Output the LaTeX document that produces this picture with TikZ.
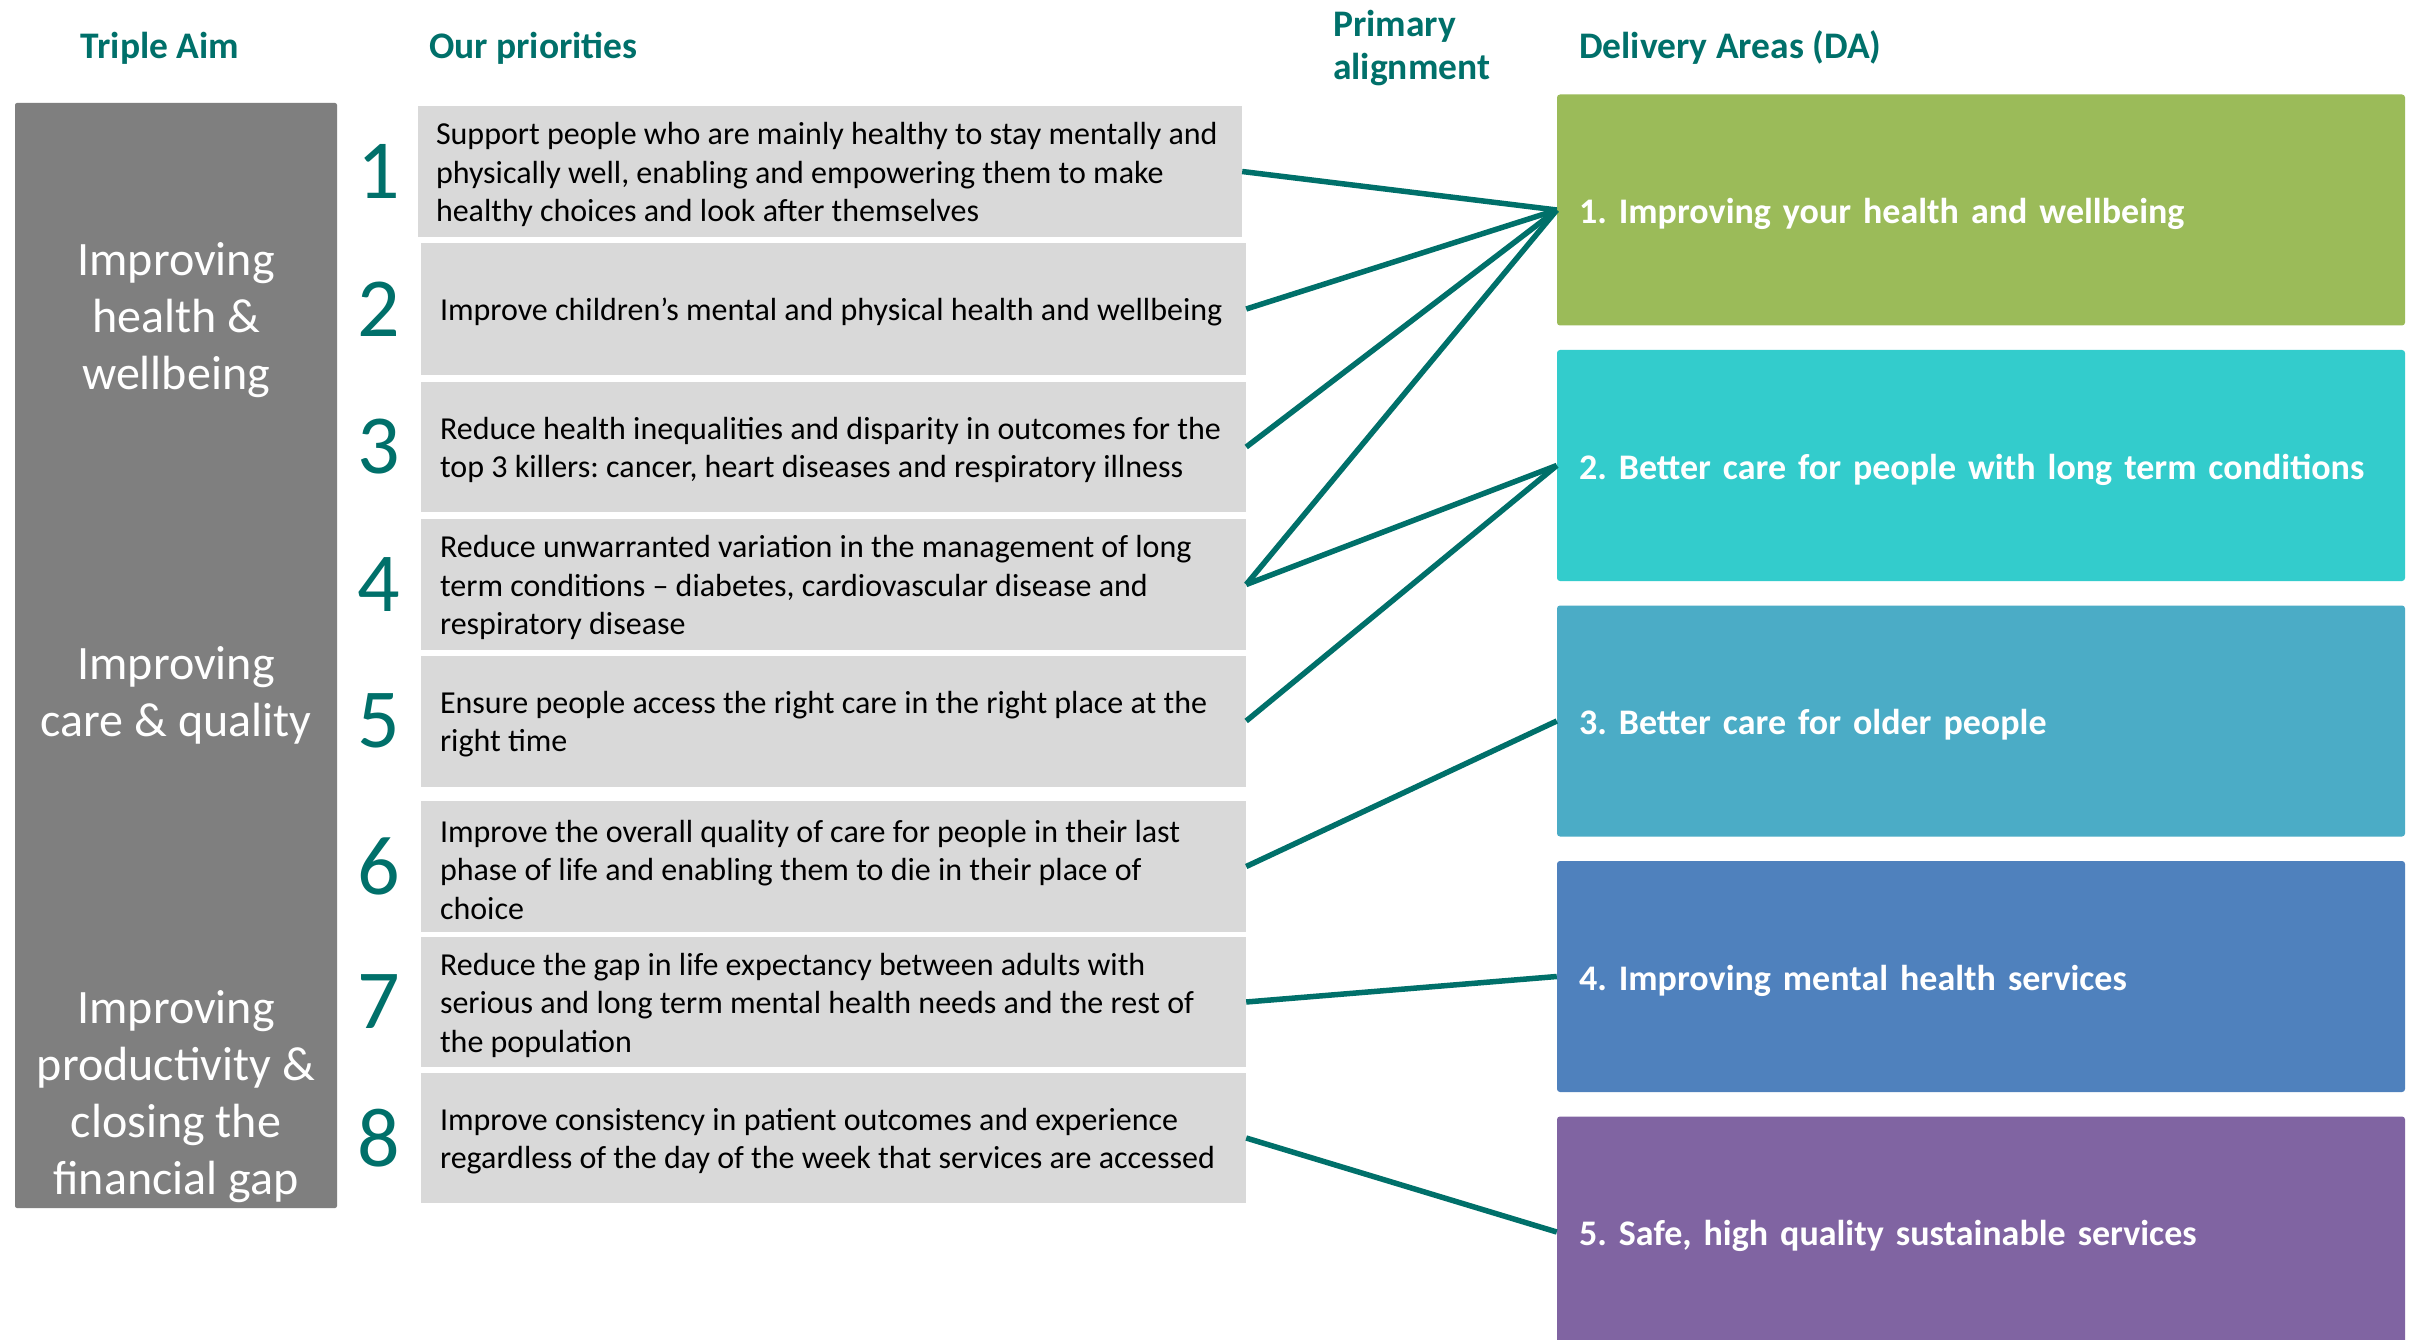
\documentclass[tikz,border=0pt]{standalone}
\usepackage{fontspec}
\setmainfont{Carlito}
\frenchspacing
\definecolor{brandteal}{RGB}{0,112,106}
\definecolor{aimgrey}{RGB}{127,127,127}
\definecolor{prioritygrey}{RGB}{217,217,217}
\definecolor{daone}{RGB}{155,187,89}
\definecolor{datwo}{RGB}{51,204,204}
\definecolor{dathree}{RGB}{75,172,198}
\definecolor{dafour}{RGB}{79,129,189}
\definecolor{dafive}{RGB}{128,100,162}
\begin{document}
\begin{tikzpicture}[x=1pt,y=-1pt,
  header/.style={text=brandteal, inner sep=0pt, font=\fontsize{37.5}{43}\selectfont\bfseries},
  aimbox/.style={fill=aimgrey, rounded corners=2pt},
  aimtext/.style={text=white, align=center, inner sep=0pt, font=\fontsize{48}{57}\selectfont},
  num/.style={text=brandteal, inner sep=0pt, font=\fontsize{84}{90}\selectfont},
  pbox/.style={fill=prioritygrey, minimum width=825pt, minimum height=131pt, inner sep=0pt},
  ptext/.style={anchor=west, align=left, inner sep=0pt, yshift=-3pt, text=black, font=\fontsize{32}{38.5}\selectfont},
  dabox/.style={minimum width=848pt, minimum height=231pt, text width=804pt, inner xsep=22pt,
    inner ysep=0pt, text height=27pt, text depth=0pt, align=left, text=white, rounded corners=3pt,
    font=\fontsize{36}{43}\selectfont\bfseries},
  link/.style={draw=brandteal, line width=5.5pt}
]
\useasboundingbox[fill=white] (0,0) rectangle (2413,1340);

% column headings
\node[header, anchor=base] (hAim) at (160,59) {Triple Aim};
\node[header, anchor=base west] (hPri) at (429,59) {Our priorities};
\node[header, anchor=west, align=left] (hAlign) at (1333,48) {Primary\\alignment};
\node[header, anchor=base west] (hDA) at (1579,59) {Delivery Areas (DA)};

% triple aim column
\node[aimbox, minimum width=322pt, minimum height=1105pt, inner sep=0pt] (aim) at (176,655.5) {};
\node[aimtext] (aimA) at (176,320) {Improving\\health \&\\wellbeing};
\node[aimtext] (aimB) at (176,695) {Improving\\care \& quality};
\node[aimtext] (aimC) at (176,1097) {Improving\\productivity \&\\closing the\\financial gap};

% priority boxes
\node[pbox, minimum width=824pt] (p1) at (830,171.5) {};
\node[pbox, minimum height=132pt] (p2) at (833.5,309) {};
\node[pbox, minimum height=130pt] (p3) at (833.5,447) {};
\node[pbox] (p4) at (833.5,584.5) {};
\node[pbox] (p5) at (833.5,721) {};
\node[pbox] (p6) at (833.5,866.5) {};
\node[pbox, minimum height=130pt] (p7) at (833.5,1002) {};
\node[pbox, minimum height=130pt] (p8) at (833.5,1138) {};

% priority numbers
\coordinate (numcol) at (379,0);
\node[num] (n1) at (p1 -| numcol) {1};
\node[num] (n2) at (p2 -| numcol) {2};
\node[num] (n3) at (p3 -| numcol) {3};
\node[num] (n4) at (p4 -| numcol) {4};
\node[num] (n5) at (p5 -| numcol) {5};
\node[num] (n6) at (p6 -| numcol) {6};
\node[num] (n7) at (p7 -| numcol) {7};
\node[num] (n8) at (p8 -| numcol) {8};

% priority texts
\node[ptext] (t1) at ([xshift=18pt]p1.west) {Support people who are mainly healthy to stay mentally and\\physically well, enabling and empowering them to make\\healthy choices and look after themselves};
\node[ptext] (t2) at ([xshift=19pt]p2.west) {Improve children’s mental and physical health and wellbeing};
\node[ptext] (t3) at ([xshift=19pt]p3.west) {Reduce health inequalities and disparity in outcomes for the\\top 3 killers: cancer, heart diseases and respiratory illness};
\node[ptext] (t4) at ([xshift=19pt]p4.west) {Reduce unwarranted variation in the management of long\\term conditions – diabetes, cardiovascular disease and\\respiratory disease};
\node[ptext] (t5) at ([xshift=19pt]p5.west) {Ensure people access the right care in the right place at the\\right time};
\node[ptext] (t6) at ([xshift=19pt]p6.west) {Improve the overall quality of care for people in their last\\phase of life and enabling them to die in their place of\\choice};
\node[ptext] (t7) at ([xshift=19pt]p7.west) {Reduce the gap in life expectancy between adults with\\serious and long term mental health needs and the rest of\\the population};
\node[ptext] (t8) at ([xshift=19pt]p8.west) {Improve consistency in patient outcomes and experience\\regardless of the day of the week that services are accessed};

% delivery areas
\node[dabox, fill=daone] (d1) at (1981,210) {1. Improving your health and wellbeing};
\node[dabox, fill=datwo] (d2) at (1981,465.5) {2. Better care for people with long term conditions};
\node[dabox, fill=dathree] (d3) at (1981,721) {3. Better care for older people};
\node[dabox, fill=dafour] (d4) at (1981,976.5) {4. Improving mental health services};
\node[dabox, fill=dafive] (d5) at (1981,1232) {5. Safe, high quality sustainable services};

% primary alignment links
\draw[link] (p1.east) -- (d1.west);
\draw[link] (p2.east) -- (d1.west);
\draw[link] (p3.east) -- (d1.west);
\draw[link] (p4.east) -- (d1.west);
\draw[link] (p4.east) -- (d2.west);
\draw[link] (p5.east) -- (d2.west);
\draw[link] (p6.east) -- (d3.west);
\draw[link] (p7.east) -- (d4.west);
\draw[link] (p8.east) -- (d5.west);
\end{tikzpicture}
\end{document}
